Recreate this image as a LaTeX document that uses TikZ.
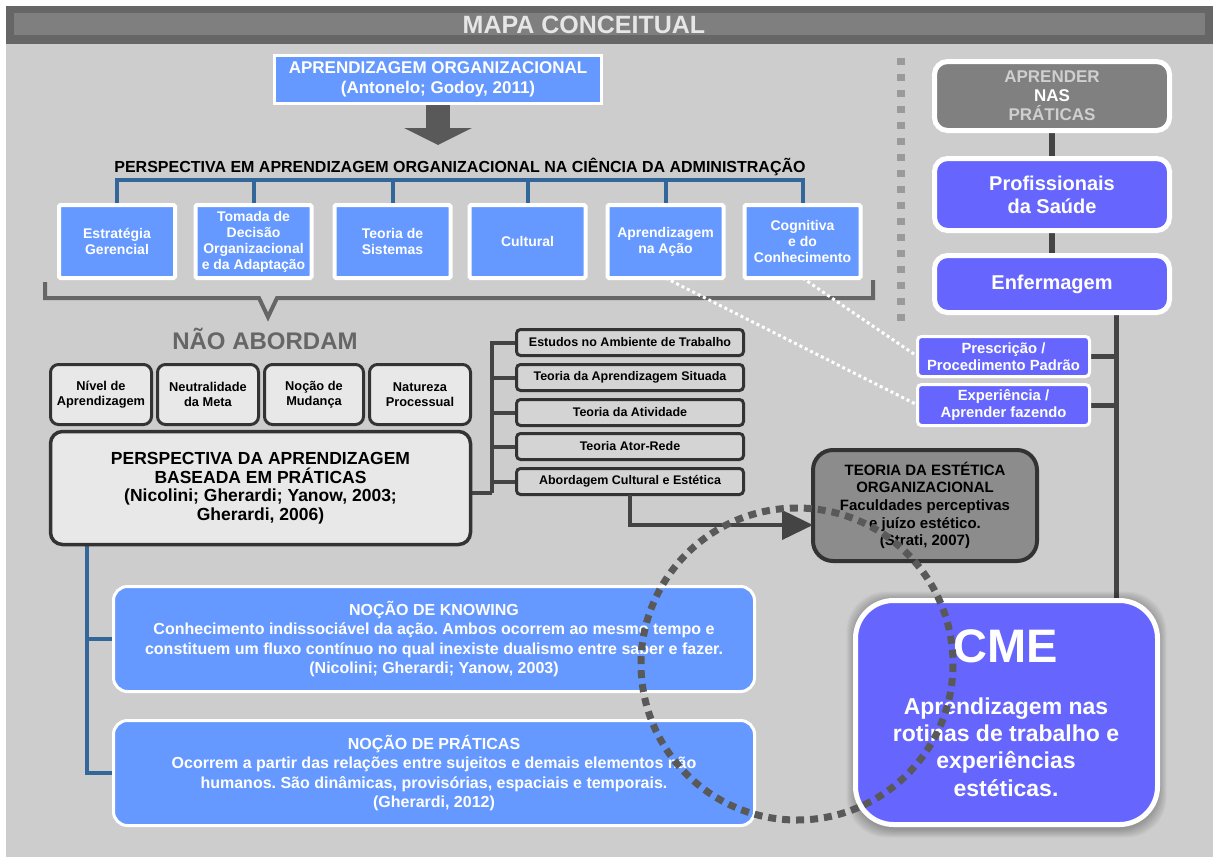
\documentclass[tikz,border=0pt]{standalone}
\usepackage{fontspec}
\setmainfont{Liberation Sans}
\usetikzlibrary{arrows.meta,calc}
\definecolor{bgc}{HTML}{CDCDCD}
\definecolor{hdark}{HTML}{666666}
\definecolor{hmid}{HTML}{7F7F7F}
\definecolor{hlight}{HTML}{E6E6E6}
\definecolor{lblue}{HTML}{6699FF}
\definecolor{vblue}{HTML}{6666FF}
\definecolor{steel}{HTML}{336699}
\definecolor{dgray}{HTML}{444444}
\definecolor{agray}{HTML}{595959}
\definecolor{lbox}{HTML}{E8E8E8}
\definecolor{mbox}{HTML}{D4D4D4}
\definecolor{tgray}{HTML}{8C8C8C}
\definecolor{pgray}{HTML}{808080}
\definecolor{ltxt}{HTML}{CFCFCF}
\definecolor{edgec}{HTML}{333333}
\definecolor{dotg}{HTML}{9A9A9A}
\newcommand\myfs[2]{\fontsize{#1}{#2}\selectfont}
\frenchspacing
\pgfdeclarelayer{bg}\pgfdeclarelayer{back}\pgfsetlayers{bg,back,main}
\begin{document}
\begin{tikzpicture}[x=1pt,y=-1pt,
 every node/.style={inner sep=0pt,outer sep=0pt,align=center},
 topbox/.style={draw=white,line width=3pt,fill=lblue,text=white,font=\bfseries\myfs{17}{20},minimum width=327pt,minimum height=48pt},
 sixbox/.style={draw=white,line width=4pt,fill=lblue,text=white,font=\bfseries\myfs{14}{16},minimum width=116pt,minimum height=73pt,rounded corners=1.5pt},
 grbox/.style={draw=edgec,line width=3pt,fill=lbox,rounded corners=8pt,font=\bfseries\myfs{12.8}{15},minimum width=101pt,minimum height=60pt},
 bigbox/.style={draw=edgec,line width=3.5pt,fill=lbox,rounded corners=12pt,font=\bfseries\myfs{17.5}{18.5},minimum width=420pt,minimum height=113pt},
 smbox/.style={draw=edgec,line width=3pt,fill=mbox,rounded corners=4pt,font=\bfseries\myfs{12.5}{14},minimum width=227pt,minimum height=26pt},
 teobox/.style={draw=edgec,line width=4pt,fill=tgray,rounded corners=20pt,font=\bfseries\myfs{15}{17.7},minimum width=224pt,minimum height=111pt},
 rbox/.style={draw=white,line width=5pt,fill=vblue,text=white,rounded corners=13pt,font=\bfseries\myfs{20}{23},minimum width=235pt},
 pbox/.style={draw=white,line width=3pt,fill=vblue,text=white,rounded corners=4pt,font=\bfseries\myfs{14.8}{17},minimum width=172pt,minimum height=40pt},
 nbox/.style={draw=white,line width=3pt,fill=lblue,text=white,rounded corners=14pt,font=\bfseries\myfs{16}{19.5},minimum width=641pt,minimum height=105pt},
 steelline/.style={draw=steel,line width=4pt},
 conn/.style={draw=dgray,line width=5pt},
 treeline/.style={draw=dgray,line width=4pt},
 wdot/.style={draw=white,line width=3pt,dash pattern=on 3pt off 3pt}
]
\useasboundingbox (0,0) rectangle (1213,857);
\begin{pgfonlayer}{bg}
 \fill[white] (0,0) rectangle (1213,857);
 \fill[bgc] (6,44) rectangle (1213,857);
 \fill[hdark] (6,6) rectangle (1213,44);
 \fill[hmid] (14,13) rectangle (1205,35);
\end{pgfonlayer}

% header
\node[font=\bfseries\myfs{25}{28},text=hlight,anchor=base] (title) at (584,33) {MAPA CONCEITUAL};

% top part
\node[topbox] (top) at (438,79.5) {APRENDIZAGEM ORGANIZACIONAL\\(Antonelo; Godoy, 2011)};
\coordinate (arrtip) at (438,145);
\node[font=\bfseries\myfs{16}{19},anchor=base] (ptitle) at (460,172) {PERSPECTIVA EM APRENDIZAGEM ORGANIZACIONAL NA CIÊNCIA DA ADMINISTRAÇÃO};

\node[sixbox] (b1) at (117,241.5) {Estratégia\\Gerencial};
\node[sixbox] (b2) at (253.5,241.5) {Tomada de\\Decisão\\Organizacional\\e da Adaptação};
\node[sixbox] (b3) at (392.5,241.5) {Teoria de\\Sistemas};
\node[sixbox] (b4) at (527.5,241.5) {Cultural};
\node[sixbox] (b5) at (665.5,241.5) {Aprendizagem\\na Ação};
\node[sixbox] (b6) at (802.5,241.5) {Cognitiva\\e do\\Conhecimento};

% bracket below the six boxes
\draw[line width=4pt,hdark,line join=miter] (45,282) -- (45,298) -- (259,298) -- (268,317) -- (277,298) -- (873,298) -- (873,280);

\node[font=\bfseries\myfs{24}{28},text=hdark,anchor=base] (nao) at (265,349) {NÃO ABORDAM};

\node[grbox] (n1) at (101,394.5) {Nível de\\Aprendizagem};
\node[grbox] (n2) at (208,394.5) {Neutralidade\\da Meta};
\node[grbox,minimum width=99pt] (n3) at (314,394.5) {Noção de\\Mudança};
\node[grbox] (n4) at (420,394.5) {Natureza\\Processual};

\node[bigbox] (big) at (260.5,488) {PERSPECTIVA DA APRENDIZAGEM\\BASEADA EM PRÁTICAS\\(Nicolini; Gherardi; Yanow, 2003;\\Gherardi, 2006)};

\node[smbox] (s1) at (630,342.5) {Estudos no Ambiente de Trabalho};
\node[smbox] (s2) at (630,377.5) {Teoria da Aprendizagem Situada};
\node[smbox] (s3) at (630,412.5) {Teoria da Atividade};
\node[smbox] (s4) at (630,446.5) {Teoria Ator-Rede};
\node[smbox] (s5) at (630,481.5) {Abordagem Cultural e Estética};

\node[teobox] (teo) at (925,505.5) {TEORIA DA ESTÉTICA\\ORGANIZACIONAL\\Faculdades perceptivas\\e juízo estético.\\(Strati, 2007)};

% right column
\draw[dash pattern=on 7pt off 9pt,line width=8pt,dotg] (901,58) -- (901,325);
\node[rbox,fill=pgray,font=\bfseries\myfs{17}{19},minimum height=69pt] (apr) at (1052,96) {{\color{ltxt}APRENDER}\\NAS\\{\color{ltxt}PRÁTICAS}};
\node[rbox,minimum height=72pt] (prof) at (1052,194.5) {Profissionais\\da Saúde};
\node[rbox,minimum height=57pt] (enf) at (1052,284) {Enfermagem};
\node[pbox] (presc) at (1003.5,356.5) {Prescrição /\\Procedimento Padrão};
\node[pbox,minimum height=41pt] (exp) at (1003.5,405) {Experiência /\\Aprender fazendo};

\node[draw=white,line width=5pt,fill=vblue,rounded corners=38pt,minimum width=302pt,minimum height=224pt] (cme) at (1006.5,712.5) {};
\node[font=\bfseries\myfs{47}{50},text=white,anchor=base] (cmet) at (1006,662) {CME};
\node[font=\bfseries\myfs{23}{27.3},text=white] (cmed) at (1006,747) {Aprendizagem nas\\rotinas de trabalho e\\experiências\\estéticas.};

% bottom-left blue boxes
\node[nbox] (know) at (434,639) {NOÇÃO DE KNOWING\\Conhecimento indissociável da ação. Ambos ocorrem ao mesmo tempo e\\constituem um fluxo contínuo no qual inexiste dualismo entre saber e fazer.\\(Nicolini; Gherardi; Yanow, 2003)};
\node[nbox] (prat) at (434,773) {NOÇÃO DE PRÁTICAS\\Ocorrem a partir das relações entre sujeitos e demais elementos não\\humanos. São dinâmicas, provisórias, espaciais e temporais.\\(Gherardi, 2012)};

\coordinate (tj) at (492,493);
\coordinate (rvx) at (1116,400);
\coordinate (bx) at (87,600);

\begin{pgfonlayer}{back}
 \draw[line width=24pt,agray,-{Triangle[length=17pt,width=67pt]}] (top.south) -- (arrtip);
 \draw[steelline] (b1.north) -- ++(0,-25) -| (b6.north);
 \foreach \b in {b2,b3,b4,b5} \draw[steelline] (\b.north) -- ++(0,-25);
 \draw[treeline] (s1.west) -| (tj);
 \foreach \b in {s2,s3,s4,s5} \draw[treeline] (\b.west) -- (\b.west -| tj);
 \draw[treeline] (tj) -- (tj -| big.east);
 \draw[conn,line width=6pt] (apr.south) -- (prof.north);
 \draw[conn,line width=6pt] (prof.south) -- (enf.north);
 \draw[conn] (enf.south -| rvx) -- (cme.north -| rvx);
 \draw[conn] (presc.east) -- (presc.east -| rvx);
 \draw[conn] (exp.east) -- (exp.east -| rvx);
 \draw[steelline] (big.south -| bx) -- (prat.west -| bx) -- (prat.west);
 \draw[steelline] (know.west -| bx) -- (know.west);
 \foreach \i in {1,...,9}
   \fill[black,opacity=0.03,rounded corners=40pt] ($(cme.north west)+(-\i,-\i)$) rectangle ($(cme.south east)+(\i,\i+4)$);
\end{pgfonlayer}

\draw[line width=4pt,dgray,-{Triangle[length=31pt,width=29pt]}] (s5.south) |- (teo.west |- 0,525);
\draw[wdot] (b5.south) -- (exp.west);
\draw[wdot] (b6.south) -- (presc.west);

% dotted circle
\draw[agray,line width=7pt,dash pattern=on 8pt off 6pt] (797,664) circle (156);
\end{tikzpicture}
\end{document}
